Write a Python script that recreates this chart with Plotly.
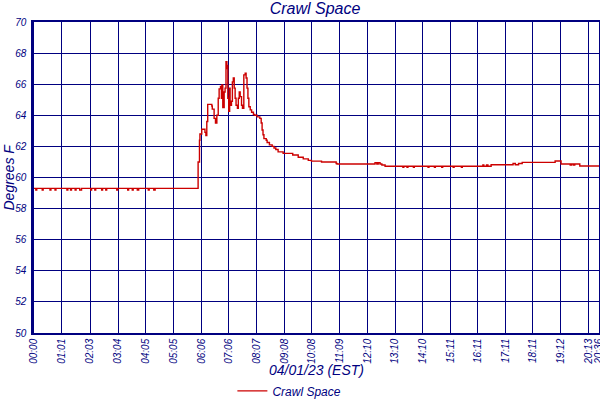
import plotly.graph_objects as go

# ---- data ----
times = [
    "00:00", "00:04", "00:06", "00:18", "00:20", "00:35", "00:37", "00:46", "00:48",
    "01:12", "01:14", "01:20", "01:22", "01:30", "01:32", "01:40", "01:44",
    "02:04", "02:06", "02:13", "02:15", "02:28", "02:30", "02:37", "02:39",
    "03:01", "03:03", "03:25", "03:27", "03:35", "03:37", "03:46", "03:49",
    "04:10", "04:12", "04:22", "04:25",
    "05:59", "06:02", "06:03", "06:07", "06:14", "06:16", "06:18", "06:20",
    "06:29", "06:30", "06:34", "06:37", "06:40", "06:43", "06:45", "06:48",
    "06:50", "06:51", "06:53", "06:56", "06:58", "07:00", "07:02", "07:03",
    "07:04", "07:06", "07:08", "07:09", "07:12", "07:14", "07:16", "07:18",
    "07:20", "07:22", "07:25", "07:27", "07:29", "07:31", "07:34", "07:36",
    "07:39", "07:42", "07:44", "07:46", "07:48", "07:50", "07:53", "07:56",
    "08:00", "08:03", "08:08", "08:14", "08:17", "08:19", "08:21", "08:23",
    "08:28", "08:30", "08:35", "08:41", "08:45", "08:49", "08:54", "09:05",
    "09:26", "09:38", "09:49", "10:00", "10:07", "10:29", "11:01", "11:03",
    "12:26", "12:30", "12:33", "12:37", "12:41", "12:48",
    "13:27", "13:29", "13:36", "13:38", "13:50", "13:52",
    "14:22", "14:24", "14:36", "14:38", "14:52", "14:54",
    "15:17", "15:19", "15:35", "15:37",
    "16:22", "16:24", "16:30", "16:33", "16:40", "17:28", "17:33", "17:40",
    "17:48", "19:00", "19:13", "19:33", "19:36", "19:40", "19:43", "19:54",
    "20:36",
]
temps = [
    59.3, 59.2, 59.3, 59.2, 59.3, 59.2, 59.3, 59.2, 59.3,
    59.2, 59.3, 59.2, 59.3, 59.2, 59.3, 59.2, 59.3,
    59.2, 59.3, 59.2, 59.3, 59.2, 59.3, 59.2, 59.3,
    59.2, 59.3, 59.2, 59.3, 59.2, 59.3, 59.2, 59.3,
    59.2, 59.3, 59.2, 59.3,
    61.0, 62.4, 62.8, 63.1, 62.9, 62.7, 63.6, 64.7,
    64.6, 64.4, 63.8, 63.5, 64.0, 65.1, 65.7, 65.85,
    65.1, 65.95, 64.5, 65.5, 65.75, 67.45, 67.0, 67.2,
    65.1, 64.25, 65.75, 64.65, 64.9, 66.15, 66.4, 65.75,
    65.1, 64.65, 64.45, 65.1, 65.5, 65.2, 64.65, 64.45,
    66.6, 66.7, 66.4, 65.75, 65.1, 64.55, 64.35, 64.2,
    64.05, 64.0, 63.9, 63.8, 63.5, 63.05, 62.75, 62.5,
    62.4, 62.25, 62.1, 62.0, 61.9, 61.8, 61.65, 61.55,
    61.45, 61.3, 61.2, 61.1, 61.05, 61.0, 60.9, 60.87,
    60.95, 60.87, 60.95, 60.87, 60.8, 60.72,
    60.65, 60.72, 60.65, 60.72, 60.65, 60.72,
    60.65, 60.72, 60.65, 60.72, 60.65, 60.72,
    60.65, 60.72, 60.65, 60.72,
    60.8, 60.72, 60.8, 60.72, 60.82, 60.9, 60.82, 60.9,
    60.97, 61.06, 60.87, 60.8, 60.87, 60.8, 60.87, 60.74,
    60.74,
]
tick_labels = ["00:00", "01:01", "02:03", "03:04", "04:05", "05:05", "06:06",
               "07:06", "08:07", "09:08", "10:08", "11:09", "12:10", "13:10",
               "14:10", "15:11", "16:11", "17:11", "18:11", "19:12", "20:13", "20:36"]
y_ticks = [50, 52, 54, 56, 58, 60, 62, 64, 66, 68, 70]

series_name = "Crawl Space"
chart_title = "Crawl Space"
x_title = "04/01/23 (EST)"
y_title = "Degrees F"


def to_min(s):
    h, m = s.split(":")
    return int(h) * 60 + int(m)


assert len(times) == len(temps), (len(times), len(temps))
x_vals = [to_min(t) for t in times]
tick_vals = [to_min(t) for t in tick_labels]

NAVY = "#000080"
RED = "#cc0000"
FONT = "Liberation Sans"

fig = go.Figure()
fig.add_trace(go.Scatter(
    x=x_vals, y=temps, mode="lines", name=series_name,
    line=dict(color=RED, width=1.4, shape="hv"),
))

fig.update_layout(
    width=600, height=400,
    margin=dict(l=34, r=1, t=22, b=67, autoexpand=False),
    paper_bgcolor="white", plot_bgcolor="white",
    title=dict(text=chart_title, x=0.525, xanchor="center", y=0.978, yanchor="middle",
               xref="container", yref="container",
               font=dict(family=FONT, size=16, color=NAVY, style="italic")),
    showlegend=True,
    legend=dict(orientation="h", x=0.452, xanchor="center", y=-0.186, yanchor="middle",
                font=dict(family=FONT, size=12, color=NAVY, style="italic"),
                bgcolor="rgba(0,0,0,0)"),
    xaxis=dict(
        range=[0, tick_vals[-1]], tickmode="array", tickvals=tick_vals, ticktext=tick_labels,
        tickangle=-90, showgrid=True, gridcolor=NAVY, gridwidth=1.3,
        showline=True, linecolor=NAVY, linewidth=1.5, mirror=True,
        ticks="", zeroline=False, automargin=False, ticklabeloverflow="allow",
        tickfont=dict(family=FONT, size=10, color=NAVY, style="italic"),
    ),
    yaxis=dict(
        range=[50, 70], tickmode="array", tickvals=y_ticks,
        showgrid=True, gridcolor=NAVY, gridwidth=1.3,
        showline=True, linecolor=NAVY, linewidth=2.5, mirror=True,
        ticks="", zeroline=False, ticklabelstandoff=3, automargin=False,
        tickfont=dict(family=FONT, size=10, color=NAVY, style="italic"),
    ),
    annotations=[
        dict(text=x_title, xref="paper", yref="paper", x=0.5, y=-0.119,
             xanchor="center", yanchor="middle", showarrow=False,
             font=dict(family=FONT, size=14, color=NAVY, style="italic")),
        dict(text=y_title, xref="paper", yref="paper", x=-0.046, y=0.5,
             xanchor="center", yanchor="middle", showarrow=False, textangle=-90,
             font=dict(family=FONT, size=14, color=NAVY, style="italic")),
    ],
)

fig.write_html(
    "out.html",
    config={"displayModeBar": False},
    post_script="document.body.style.margin='0';document.body.style.overflow='hidden';",
)
